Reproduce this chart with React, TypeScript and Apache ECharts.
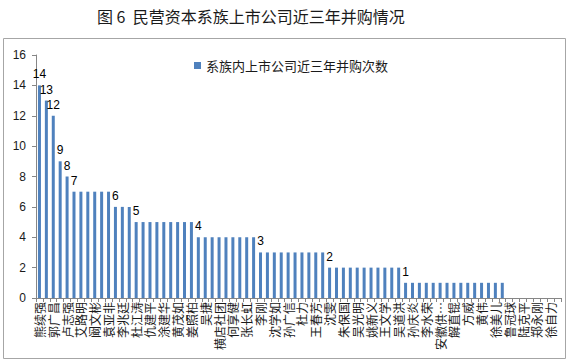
import React, { useEffect, useRef } from "react";
import * as echarts from "echarts";

const titleText = "图 6  民营资本系族上市公司近三年并购情况";
const seriesName = "系族内上市公司近三年并购次数";

// 76 categories; only every other name is readable on the axis, the rest are hidden ("" here)
const names: string[] = [
  "熊续强", "", "郭广昌", "", "卢志强", "", "艾路明", "", "阚文彬", "",
  "袁亚非", "", "李兆廷", "", "杜江涛", "", "仇建平", "", "涂建华", "",
  "黄茂如", "", "姜照柏", "", "吴捷", "", "横店社团", "", "何享健", "",
  "张长虹", "", "李刚", "", "沈学如", "", "孙广信", "", "杜力", "",
  "王春芳", "", "沈雯", "", "朱保国", "", "吴光明", "", "姚新义", "",
  "王文学", "", "吴道洪", "", "孙庆炎", "", "李水荣", "", "安徽供…", "",
  "解直锟", "", "方威", "", "黄伟", "", "徐美儿", "", "鲁冠球", "",
  "陆克平", "", "郑永刚", "", "徐自力", "",
];

const values: number[] = [
  14, 13, 12, 9, 8, 7, 7, 7, 7, 7,
  7, 6, 6, 6, 5, 5, 5, 5, 5, 5,
  5, 5, 5, 4, 4, 4, 4, 4, 4, 4,
  4, 4, 3, 3, 3, 3, 3, 3, 3, 3,
  3, 3, 2, 2, 2, 2, 2, 2, 2, 2,
  2, 2, 2, 1, 1, 1, 1, 1, 1, 1,
  1, 1, 1, 1, 1, 1, 1, 1, 0, 0,
  0, 0, 0, 0, 0, 0,
];

// indices (0-based) of the bars that carry a data label
const labelledBars: number[] = [0, 1, 2, 3, 4, 5, 11, 14, 23, 32, 42, 53];

const yTicks = { min: 0, max: 16, interval: 2 };

export default function App() {
  const ref = useRef<HTMLDivElement>(null);

  useEffect(() => {
    if (!ref.current) return;
    const chart = echarts.init(ref.current, undefined, { renderer: "svg" });
    const data = values.map((v, i) =>
      labelledBars.includes(i)
        ? { value: v, label: { show: true } }
        : { value: v }
    );
    chart.setOption({
      animation: false,
      backgroundColor: "#ffffff",
      title: {
        text: titleText,
        left: 92,
        top: 3,
        textStyle: {
          fontFamily: "Noto Sans CJK SC",
          fontSize: 16,
          fontWeight: "normal",
          color: "#1a1a1a",
        },
      },
      graphic: [
        {
          type: "rect",
          shape: { x: 3.5, y: 38.5, width: 562, height: 320 },
          style: { fill: "none", stroke: "#a6a6a6", lineWidth: 1 },
          silent: true,
        },
      ],
      legend: {
        left: 189,
        top: 54,
        itemWidth: 7,
        itemHeight: 7,
        itemGap: 6,
        icon: "rect",
        textStyle: {
          fontFamily: "Noto Sans CJK SC",
          fontSize: 13,
          color: "#1a1a1a",
        },
        data: [seriesName],
      },
      grid: { left: 36, right: 11, top: 55, bottom: 65, containLabel: false },
      xAxis: {
        type: "category",
        data: names,
        boundaryGap: true,
        axisLine: { lineStyle: { color: "#868686", width: 1 } },
        axisTick: { show: true, interval: 0, length: 4, lineStyle: { color: "#868686" } },
        axisLabel: {
          interval: 1,
          rotate: 90,
          margin: 4,
          fontFamily: "Noto Sans CJK SC",
          fontSize: 12,
          color: "#1a1a1a",
        },
      },
      yAxis: {
        type: "value",
        min: yTicks.min,
        max: yTicks.max,
        interval: yTicks.interval,
        axisLine: { show: true, lineStyle: { color: "#868686", width: 1 } },
        axisTick: { show: true, inside: false, length: 4, lineStyle: { color: "#868686" } },
        splitLine: { show: false },
        axisLabel: {
          margin: 10,
          fontFamily: "Liberation Sans",
          fontSize: 12,
          color: "#1a1a1a",
        },
      },
      series: [
        {
          name: seriesName,
          type: "bar",
          data,
          barWidth: 3,
          itemStyle: { color: "#4F81BD" },
          label: {
            show: false,
            position: "top",
            distance: 5,
            fontFamily: "Liberation Sans",
            fontSize: 12,
            color: "#000000",
          },
        },
      ],
    });
    return () => chart.dispose();
  }, []);

  return (
    <div
      ref={ref}
      style={{ position: "absolute", left: 0, top: 0, width: 572, height: 363 }}
    />
  );
}
